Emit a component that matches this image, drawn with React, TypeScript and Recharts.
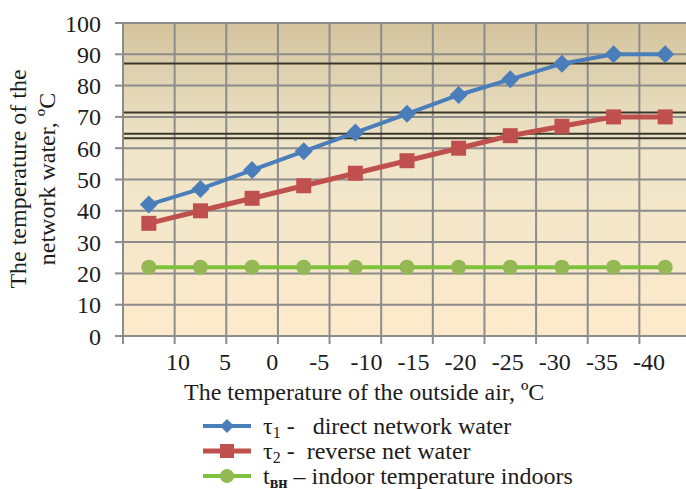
import { LineChart, Line, XAxis, YAxis, CartesianGrid, ReferenceLine, Legend } from 'recharts';

// outside air temperature, ºC (category labels)
const outsideTemps = ['10', '5', '0', '-5', '-10', '-15', '-20', '-25', '-30', '-35', '-40'];
// network water temperatures, ºC
const directWater = [42, 47, 53, 59, 65, 71, 77, 82, 87, 90, 90];
const reverseWater = [36, 40, 44, 48, 52, 56, 60, 64, 67, 70, 70];
const indoorTemp = [22, 22, 22, 22, 22, 22, 22, 22, 22, 22, 22];

const yTicks = [0, 10, 20, 30, 40, 50, 60, 70, 80, 90, 100];
const slotTicks = [0, 1, 2, 3, 4, 5, 6, 7, 8, 9, 10, 11];
// the heavy dark horizontal rules in the plot
const heavyLines = [87.1, 71.4, 64.6, 63.2];

const data = outsideTemps.map((label, i) => ({
  slot: i + 0.5,
  label,
  tau1: directWater[i],
  tau2: reverseWater[i],
  tin: indoorTemp[i],
}));

const BLUE = '#4a7ebb';
const RED = '#c0504d';
const GREEN_LINE = '#7cc23c';
const GREEN_DOT = '#93b854';
const GRID = '#8c8c8c';
const INK = '#1c1c1c';
const SERIF = '"Liberation Serif", "Times New Roman", serif';

const Diamond = (props: any) => {
  const { cx, cy, index } = props;
  const r = 9;
  return <path key={`d${index}`} d={`M${cx},${cy - r}L${cx + r},${cy}L${cx},${cy + r}L${cx - r},${cy}Z`} fill={BLUE} />;
};
const Square = (props: any) => {
  const { cx, cy, index } = props;
  return <rect key={`s${index}`} x={cx - 7.5} y={cy - 7.5} width={15} height={15} fill={RED} />;
};
const Dot = (props: any) => {
  const { cx, cy, index } = props;
  return <circle key={`c${index}`} cx={cx} cy={cy} r={7.5} fill={GREEN_DOT} />;
};

function LegendIcon({ color, dot, width }: { color: string; dot: string; width: number }) {
  return (
    <svg width={48} height={20} style={{ display: 'block', flex: 'none' }}>
      <line x1={0} y1={10} x2={48} y2={10} stroke={color} strokeWidth={width} />
      {dot === 'diamond' && <path d="M24,3L31,10L24,17L17,10Z" fill={color} />}
      {dot === 'square' && <rect x={17} y={3} width={14} height={14} fill={color} />}
      {dot === 'circle' && <circle cx={24} cy={10} r={7} fill={GREEN_DOT} />}
    </svg>
  );
}

function ChartLegend() {
  const row: React.CSSProperties = { display: 'flex', alignItems: 'center', height: 25, whiteSpace: 'pre' };
  const sub: React.CSSProperties = { fontSize: 16, verticalAlign: '-4px', lineHeight: 0 };
  return (
    <div style={{ height: 84, width: 686, paddingTop: 8, paddingLeft: 203, boxSizing: 'border-box', fontFamily: SERIF, fontSize: 24, color: INK, lineHeight: 1 }}>
      <div style={row}>
        <LegendIcon color={BLUE} dot="diamond" width={4} />
        <span style={{ marginLeft: 12 }}>τ<span style={sub}>1</span>{' -   direct network water'}</span>
      </div>
      <div style={row}>
        <LegendIcon color={RED} dot="square" width={5} />
        <span style={{ marginLeft: 12 }}>τ<span style={sub}>2</span>{' -  reverse net water'}</span>
      </div>
      <div style={row}>
        <LegendIcon color={GREEN_LINE} dot="circle" width={4} />
        <span style={{ marginLeft: 12 }}>
          t<span style={{ ...sub, fontWeight: 700, textDecoration: 'underline wavy #d03030' }}>вн</span>
          {' – indoor temperature indoors'}
        </span>
      </div>
    </div>
  );
}

export default function App() {
  return (
    <div style={{ width: 686, height: 489, overflow: 'hidden', position: 'relative', background: '#fff', fontFamily: SERIF }}>
      <style>{'body{margin:0}'}</style>
      <LineChart width={710} height={489} data={data} margin={{ top: 23, right: 19, bottom: 0, left: 0 }}>
        <defs>
          <linearGradient id="plotBg" x1="0" y1="0" x2="0" y2="1">
            <stop offset="0%" stopColor="#d3c49e" />
            <stop offset="40%" stopColor="#efe5c9" />
            <stop offset="100%" stopColor="#fdeacb" />
          </linearGradient>
        </defs>
        <CartesianGrid fill="url(#plotBg)" fillOpacity={1} stroke={GRID} strokeWidth={2} />
        {heavyLines.map((v) => (
          <ReferenceLine key={v} y={v} stroke="#3a382c" strokeWidth={2} ifOverflow="hidden" />
        ))}
        <XAxis
          dataKey="slot"
          type="number"
          domain={[0, 11]}
          ticks={slotTicks}
          interval={0}
          allowDataOverflow
          tickFormatter={() => ''}
          tickSize={8}
          height={8}
          axisLine={{ stroke: GRID, strokeWidth: 2 }}
          tickLine={{ stroke: GRID, strokeWidth: 2 }}
        />
        <XAxis
          xAxisId="labels"
          dataKey="label"
          type="category"
          scale="point"
          padding={{ left: 55, right: 42 }}
          interval={0}
          axisLine={false}
          tickLine={false}
          tickSize={0}
          tickMargin={9}
          height={61}
          tick={{ fontSize: 24, fill: INK, fontFamily: SERIF }}
          label={() => (
            <text x={184} y={400} fontSize={24} fill={INK} fontFamily={SERIF}>
              The temperature of the outside air, ºC
            </text>
          )}
        />
        <YAxis
          type="number"
          domain={[0, 100]}
          ticks={yTicks}
          interval={0}
          width={123}
          tickSize={8}
          tickMargin={14}
          axisLine={{ stroke: GRID, strokeWidth: 2 }}
          tickLine={{ stroke: GRID, strokeWidth: 2 }}
          tick={{ fontSize: 24, fill: INK, fontFamily: SERIF }}
          label={() => (
            <text transform="rotate(-90)" fontSize={24} fill={INK} textAnchor="middle" fontFamily={SERIF}>
              <tspan x={-179} y={26}>The temperature of the</tspan>
              <tspan x={-179} y={55}>network water, ºC</tspan>
            </text>
          )}
        />
        <Legend verticalAlign="bottom" height={84} wrapperStyle={{ left: 0, bottom: 0, width: 686 }} content={() => <ChartLegend />} />
        <Line dataKey="tin" stroke={GREEN_LINE} strokeWidth={4} dot={Dot} activeDot={false} isAnimationActive={false} />
        <Line dataKey="tau2" stroke={RED} strokeWidth={5} dot={Square} activeDot={false} isAnimationActive={false} />
        <Line dataKey="tau1" stroke={BLUE} strokeWidth={4} dot={Diamond} activeDot={false} isAnimationActive={false} />
      </LineChart>
    </div>
  );
}
